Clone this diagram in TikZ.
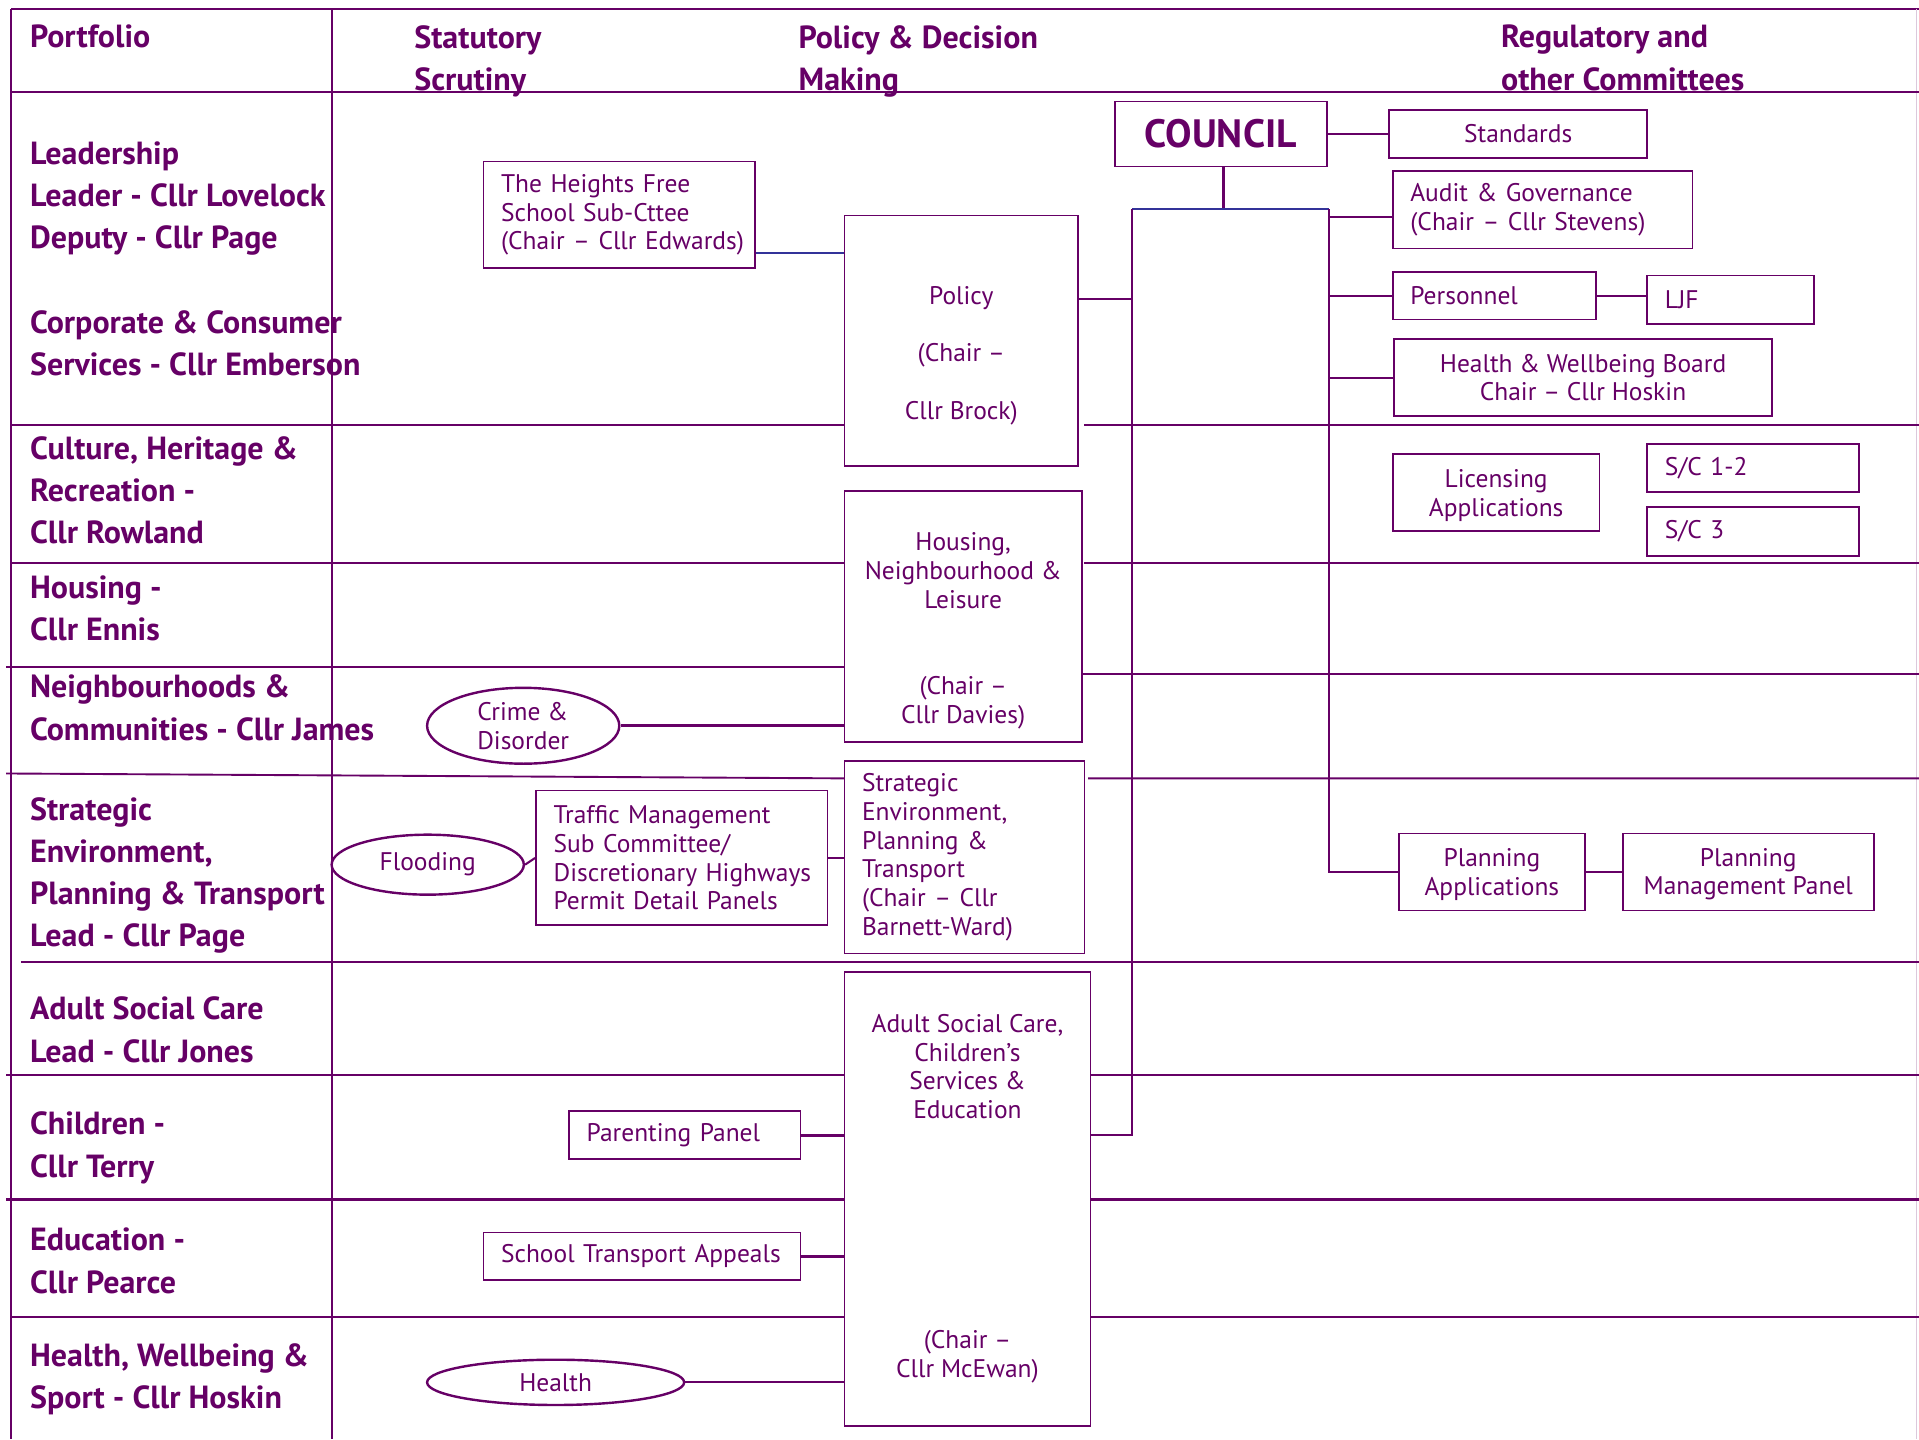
\documentclass[tikz,border=0pt]{standalone}
\usepackage{fontspec}
\setmainfont{PT Sans}
\usetikzlibrary{shapes.geometric}
\definecolor{plum}{HTML}{660066}
\definecolor{navyline}{HTML}{333399}
\definecolor{paleplum}{HTML}{DCC8DC}
\tikzset{
  grid line/.style={draw=plum, line width=0.55pt},
  link/.style={draw=plum, line width=0.6pt},
  bigtxt/.style={font=\fontsize{9.3}{12.27}\selectfont\bfseries, text=plum,
    inner sep=0pt, align=left, anchor=north west},
  cbox/.style={draw=plum, line width=0.5pt, text=plum,
    font=\fontsize{7.4}{8.36}\selectfont, align=center, inner sep=0pt},
  lbox/.style={cbox, align=left, inner xsep=0.18cm},
  oval/.style={ellipse, draw=plum, line width=0.7pt, text=plum,
    font=\fontsize{7.4}{8.36}\selectfont, align=center, inner sep=0pt}
}
% a top line that pushes the text of a tall box down
\newcommand{\topgap}{\rule{0pt}{5.4pt}\\}

\begin{document}
\begin{tikzpicture}[x=0.0125cm, y=-0.0125cm]
\useasboundingbox (0,0) rectangle (1568,1176);

% table frame and rows
\draw[grid line] (9,7) -- (1568,7);
\draw[grid line] (9,7) -- (9,1176);
\draw[grid line] (271,7) -- (271,1176);
\draw[draw=paleplum, line width=0.4pt] (1566,7) -- (1566,1176);
\draw[grid line] (9,75) -- (1568,75);
\draw[grid line] (9,347) -- (690,347) (886,347) -- (1568,347);
\draw[grid line] (9,460) -- (690,460) (886,460) -- (1568,460);
\draw[grid line] (5,545) -- (690,545) (884,551) -- (1568,551);
\draw[grid line] (5,632) -- (690,636) (889,636) -- (1568,636);
\draw[grid line] (17,786) -- (1568,786);
\draw[grid line] (5,878) -- (690,878) (891,878) -- (1568,878);
\draw[grid line, line width=0.8pt] (5,980) -- (690,980) (891,980) -- (1568,980);
\draw[grid line] (9,1076) -- (690,1076) (891,1076) -- (1568,1076);

% headings
\node[bigtxt] (hPort) at (24,20) {Portfolio};
\node[bigtxt] (hScrut) at (338,20) {Statutory\\Scrutiny};
\node[bigtxt] (hPolicy) at (652,20) {Policy \& Decision\\Making};
\node[bigtxt] (hReg) at (1226,20) {Regulatory and\\other Committees};

% portfolios
\node[bigtxt] (pLead) at (24,115) {Leadership\\Leader - Cllr Lovelock\\Deputy - Cllr Page};
\node[bigtxt] (pCorp) at (24,253) {Corporate \& Consumer\\Services - Cllr Emberson};
\node[bigtxt] (pCult) at (24,356) {Culture, Heritage \&\\Recreation -\\Cllr Rowland};
\node[bigtxt] (pHous) at (24,470) {Housing -\\Cllr Ennis};
\node[bigtxt] (pNeigh) at (24,551) {Neighbourhoods \&\\Communities - Cllr James};
\node[bigtxt] (pStrat) at (24,651) {Strategic\\Environment,\\Planning \& Transport\\Lead - Cllr Page};
\node[bigtxt] (pAdult) at (24,814) {Adult Social Care\\Lead - Cllr Jones};
\node[bigtxt] (pChild) at (24,908) {Children -\\Cllr Terry};
\node[bigtxt] (pEduc) at (24,1003) {Education -\\Cllr Pearce};
\node[bigtxt] (pHealth) at (24,1097) {Health, Wellbeing \&\\Sport - Cllr Hoskin};

% policy & decision making
\node[cbox, minimum width=2.3875cm, minimum height=2.5625cm] (policy) at (785.5,278.5)
  {\topgap Policy\\[8.36pt](Chair --\\[8.36pt]Cllr Brock)};
\node[cbox, minimum width=2.425cm, minimum height=2.5625cm] (housing) at (787,503.5)
  {\topgap Housing,\\Neighbourhood \&\\Leisure\\[16.72pt](Chair --\\Cllr Davies)};
\node[lbox, text width=2.09cm, minimum height=1.9625cm] (strategic) at (788,700.5)
  {Strategic\\Environment,\\Planning \&\\Transport\\(Chair -- Cllr\\Barnett-Ward)};
\node[cbox, minimum width=2.5125cm, minimum height=4.6375cm] (adult) at (790.5,979.5)
  {Adult Social Care,\\Children’s\\Services \&\\Education\\[58.5pt](Chair --\\Cllr McEwan)};

% council and committees
\node[cbox, font=\fontsize{11.5}{13}\selectfont\bfseries, minimum width=2.1625cm,
  minimum height=0.6625cm] (council) at (997.5,109.5) {COUNCIL};
\node[cbox, minimum width=2.6375cm, minimum height=0.4875cm] (standards) at (1240.5,109.5) {Standards};
\node[lbox, text width=2.7025cm, minimum height=0.7875cm] (audit) at (1260.5,171.5)
  {Audit \& Governance\\(Chair -- Cllr Stevens)};
\node[lbox, text width=1.715cm, minimum height=0.4875cm] (personnel) at (1221,241.5) {Personnel};
\node[lbox, text width=1.34cm, minimum height=0.5cm] (ljf) at (1414,245) {LJF};
\node[cbox, minimum width=3.8625cm, minimum height=0.7875cm] (hwb) at (1293.5,308.5)
  {Health \& Wellbeing Board\\Chair -- Cllr Hoskin};
\node[cbox, minimum width=2.1125cm, minimum height=0.7875cm] (licensing) at (1222.5,402.5)
  {\rule{0pt}{7pt}Licensing\\Applications};
\node[lbox, text width=1.8025cm, minimum height=0.4875cm] (scA) at (1432.5,382.5) {S/C 1-2};
\node[lbox, text width=1.8025cm, minimum height=0.5cm] (scB) at (1432.5,434) {S/C 3};
\node[cbox, minimum width=1.9cm, minimum height=0.7875cm] (planapp) at (1219,712.5)
  {\rule{0pt}{6.5pt}Planning\\Applications};
\node[cbox, minimum width=2.5625cm, minimum height=0.7875cm] (pmp) at (1428.5,712.5)
  {\rule{0pt}{6.5pt}Planning\\Management Panel};

% scrutiny
\node[lbox, text width=2.415cm, minimum height=1.0875cm] (heights) at (506,175.5)
  {The Heights Free\\School Sub-Cttee\\\mbox{(Chair -- Cllr Edwards)}};
\node[oval, minimum width=1.9625cm, minimum height=0.775cm, align=left] (crime) at (427.5,593)
  {Crime \&\\Disorder\hspace{1.1em}};
\node[oval, minimum width=1.9625cm, minimum height=0.6125cm] (flooding) at (349.5,706.5) {Flooding};
\node[lbox, text width=2.615cm, minimum height=1.375cm] (traffic) at (557,701)
  {Traffic Management\\Sub Committee/\\\mbox{Discretionary Highways}\\Permit Detail Panels};
\node[lbox, text width=2.0025cm, minimum height=0.4875cm] (parenting) at (559.5,927.5) {Parenting Panel};
\node[lbox, text width=2.8775cm, minimum height=0.4875cm] (transport) at (524.5,1026.5)
  {School Transport Appeals};
\node[oval, minimum width=2.625cm, minimum height=0.4625cm] (health) at (454,1129.5) {Health};

% links
\coordinate (brL) at (925,171);
\coordinate (brR) at (1086,171);
\draw[link, draw=navyline] (heights.east |- 0,207) -- (policy.west |- 0,207);
\draw[link, line width=0.9pt] (crime.east) -- (crime.east -| housing.west);
\draw[link] (flooding.east) -- (traffic.west);
\draw[link] (traffic.east) -- (traffic.east -| strategic.west);
\draw[link, line width=0.9pt] (parenting.east) -- (parenting.east -| adult.west);
\draw[link, line width=0.9pt] (transport.east) -- (transport.east -| adult.west);
\draw[link] (health.east) -- (health.east -| adult.west);
\draw[link] (council.east) -- (standards.west);
\draw[link, line width=0.8pt] (council.south -| 1000,0) -- (brL -| 1000,0);
\draw[link, draw=navyline] (brL) -- (brR);
\draw[link] (brL) -- (brL |- parenting.east) -- (adult.east |- parenting.east);
\draw[link] (policy.east |- 0,244) -- (brL |- 0,244);
\draw[link] (brR) -- (brR |- planapp.west) -- (planapp.west);
\draw[link] (brR |- 0,177) -- (audit.west |- 0,177);
\draw[link] (brR |- personnel.west) -- (personnel.west);
\draw[link] (brR |- hwb.west) -- (hwb.west);
\draw[link] (personnel.east) -- (personnel.east -| ljf.west);
\draw[link] (planapp.east) -- (pmp.west);
\end{tikzpicture}
\end{document}
